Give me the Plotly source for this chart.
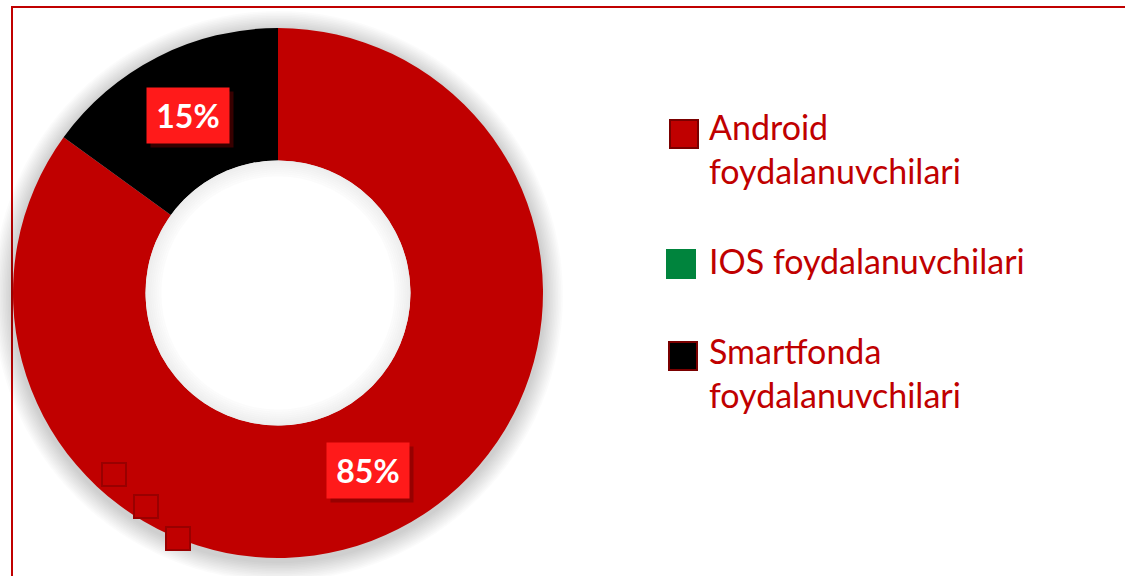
import math
import plotly.graph_objects as go

# ---- data ----
categories = ["Android foydalanuvchilari", "IOS foydalanuvchilari", "Smartfonda foydalanuvchilari"]
legend_labels = ["Android<br>foydalanuvchilari", "IOS foydalanuvchilari", "Smartfonda<br>foydalanuvchilari"]
values = [85, 0, 15]
colors = ["#C00000", "#00843D", "#000000"]
outline_colors = ["#7A0000", "#00843D", "#7A0000"]

# ---- layout geometry (pixels) ----
W, H = 1125, 576
cx, cy, R = 278, 293, 265
HOLE = 0.5
TEXT_RED = "#C00000"
FONT = "Lato"


def px(x):
    return x / W


def py(y):
    return 1 - y / H


fig = go.Figure()
fig.add_trace(go.Pie(
    labels=categories, values=values, hole=HOLE, sort=False,
    direction="clockwise", rotation=0,
    marker=dict(colors=colors, line=dict(width=0)),
    textinfo="none", hoverinfo="label+percent", showlegend=False,
    domain=dict(x=[px(cx - R), px(cx + R)], y=[py(cy + R), py(cy - R)]),
))

shapes = []
# border
shapes.append(dict(type="rect", xref="paper", yref="paper",
                   x0=px(12), x1=px(W + 20), y0=py(H + 20), y1=py(7),
                   line=dict(color="#C00000", width=2), fillcolor="rgba(0,0,0,0)", layer="below"))
# outer soft shadow
for i in range(12):
    r = R + 20 - i * 1.6
    shapes.append(dict(type="circle", xref="paper", yref="paper",
                       x0=px(cx - r), x1=px(cx + r), y0=py(cy + 3 + r), y1=py(cy + 3 - r),
                       line=dict(width=0), fillcolor="rgba(0,0,0,0.014)", layer="below"))
# white hole + inner shadow
r_in = R * HOLE
shapes.append(dict(type="circle", xref="paper", yref="paper",
                   x0=px(cx - r_in), x1=px(cx + r_in), y0=py(cy + r_in), y1=py(cy - r_in),
                   line=dict(width=0), fillcolor="white", layer="above"))
for i in range(8):
    r = r_in - 1 - i * 2
    shapes.append(dict(type="circle", xref="paper", yref="paper",
                       x0=px(cx - r), x1=px(cx + r), y0=py(cy + r), y1=py(cy - r),
                       line=dict(width=2, color=f"rgba(0,0,0,{0.07 - i * 0.008:.3f})"),
                       fillcolor="rgba(0,0,0,0)", layer="above"))
# small square marks
for (sx, sy) in [(102, 463), (134, 495), (166, 527)]:
    shapes.append(dict(type="rect", xref="paper", yref="paper",
                       x0=px(sx), x1=px(sx + 24), y0=py(sy + 23), y1=py(sy),
                       line=dict(color="#990000", width=2), fillcolor="#C00000", layer="above"))

annotations = []
# percentage labels at slice mid-angles
total = sum(values)
cum = 0
r_mid = (R + r_in) / 2
for v in values:
    if v > 0:
        theta = 2 * math.pi * (cum + v / 2) / total
        lx = cx + r_mid * math.sin(theta)
        ly = cy - r_mid * math.cos(theta)
        pct = round(100 * v / total)
        annotations.append(dict(x=px(lx), y=py(ly), xref="paper", yref="paper", text=" ",
                                xanchor="center", yanchor="middle",
                                showarrow=False, width=80, height=53, borderpad=1,
                                bgcolor="rgba(110,0,0,0.5)", xshift=4, yshift=-4))
        annotations.append(dict(x=px(lx), y=py(ly), xref="paper", yref="paper",
                                xanchor="center", yanchor="middle",
                                text=f"<b>{pct}%</b>", showarrow=False,
                                font=dict(family=FONT, size=32, color="white"),
                                width=80, height=53, borderpad=1, bgcolor="#FF1A1A"))
    cum += v

# legend
legend_tops = [113, 247, 337]
marker_pos = [(670, 120), (667, 250), (669, 342)]
for lab, col, oc, top, (mx, my) in zip(legend_labels, colors, outline_colors, legend_tops, marker_pos):
    shapes.append(dict(type="rect", xref="paper", yref="paper",
                       x0=px(mx), x1=px(mx + 28), y0=py(my + 28), y1=py(my),
                       line=dict(color=oc, width=2), fillcolor=col, layer="above"))
    annotations.append(dict(x=px(707), y=py(top - 9), xref="paper", yref="paper",
                            xanchor="left", yanchor="top", align="left", showarrow=False,
                            text=lab, font=dict(family=FONT, size=34, color=TEXT_RED)))

fig.update_layout(
    width=W, height=H, margin=dict(l=0, r=0, t=0, b=0),
    paper_bgcolor="white", plot_bgcolor="white",
    shapes=shapes, annotations=annotations,
)

fig.write_html("out.html")
